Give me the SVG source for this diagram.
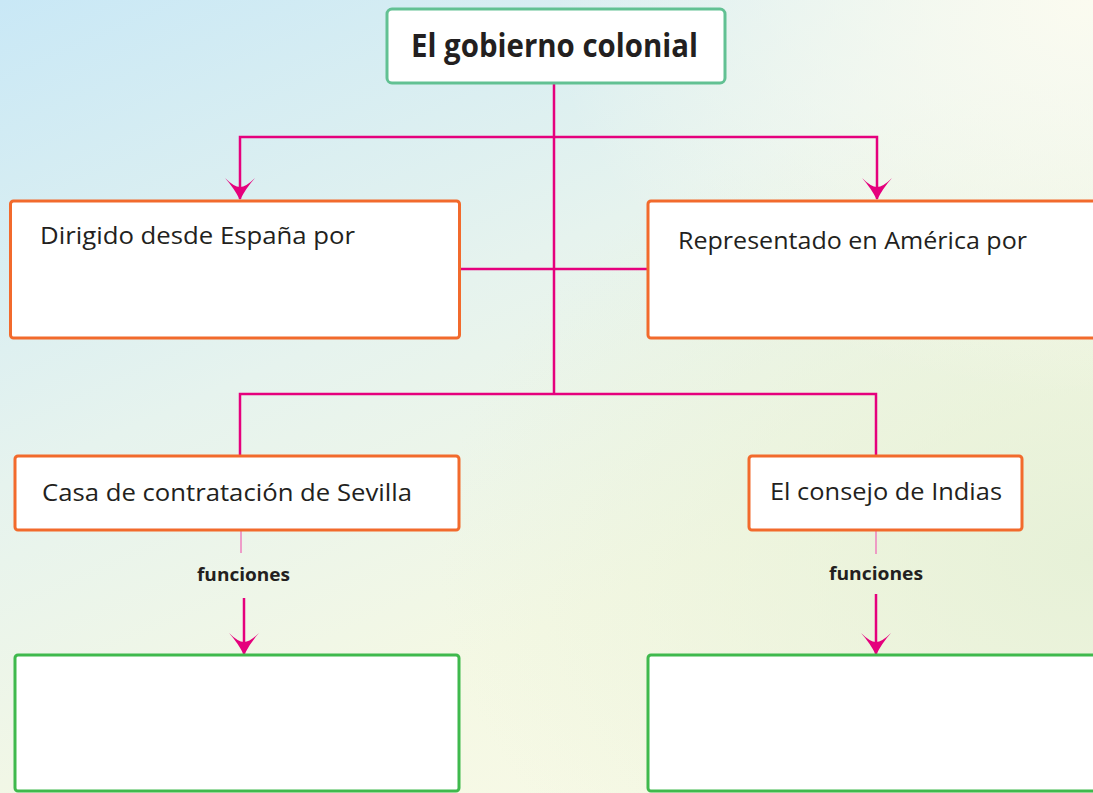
<svg xmlns="http://www.w3.org/2000/svg" width="1093" height="793" viewBox="0 0 1093 793">
<defs>
<linearGradient id="bg" x1="0" y1="0" x2="0.6" y2="1">
<stop offset="0" stop-color="#c9e8f6"/>
<stop offset="0.45" stop-color="#e6f3ee"/>
<stop offset="0.8" stop-color="#f4f8e4"/>
<stop offset="1" stop-color="#f7f9e6"/>
</linearGradient>
<radialGradient id="bg2" cx="1" cy="0.7" r="0.6">
<stop offset="0" stop-color="#e5f0d6" stop-opacity="0.9"/>
<stop offset="1" stop-color="#e5f0d6" stop-opacity="0"/>
</radialGradient>
<radialGradient id="bg3" cx="1" cy="0" r="0.5">
<stop offset="0" stop-color="#fbfbf0" stop-opacity="1"/>
<stop offset="1" stop-color="#fbfbf0" stop-opacity="0"/>
</radialGradient>
<marker id="arr" viewBox="0 0 22 30" refX="21" refY="15" markerWidth="22" markerHeight="30" markerUnits="userSpaceOnUse" orient="auto-start-reverse">
<path d="M0,0 Q10,9 22,15 Q10,21 0,30 Q9,21 9,15 Q9,9 0,0 Z" fill="#e5007d"/>
</marker>
<style>
.ln{stroke:#e5007d;stroke-width:2.5;fill:none}
.faint{stroke:#ef7fbd;stroke-width:1.5;fill:none}
.org{fill:#fff;stroke:#f26a2c;stroke-width:3}
.grn{fill:#fff;stroke:#3fb94d;stroke-width:3}
.tt{fill:#fff;stroke:#62c193;stroke-width:3}
.t{font-family:"Open Sans","Noto Sans",sans-serif;font-size:24px;fill:#231f20}
.b{font-family:"Open Sans","Noto Sans",sans-serif;font-weight:bold;fill:#231f20}
</style>
</defs>
<rect width="1093" height="793" fill="url(#bg)"/>
<rect width="1093" height="793" fill="url(#bg2)"/>
<rect width="1093" height="793" fill="url(#bg3)"/>
<g id="connectors">
<path class="ln" d="M554,83 V394"/>
<path class="ln" d="M240,199 V137 H877 V199" marker-start="url(#arr)" marker-end="url(#arr)"/>
<path class="ln" d="M460,269 H647"/>
<path class="ln" d="M240,456 V394 H876 V456"/>
<path class="faint" d="M241,531 V553"/>
<path class="ln" d="M244,598 V654" marker-end="url(#arr)"/>
<path class="faint" d="M876,531 V554"/>
<path class="ln" d="M876,594 V654" marker-end="url(#arr)"/>
</g>
<g id="title">
<rect class="tt" x="387" y="9" width="338" height="74" rx="5"/>
<text class="b" x="411" y="57" font-size="32" textLength="287" lengthAdjust="spacingAndGlyphs">El gobierno colonial</text>
</g>
<g id="dirigido">
<rect class="org" x="10.5" y="201" width="449" height="137" rx="3"/>
<text class="t" x="40" y="244" textLength="315" lengthAdjust="spacingAndGlyphs">Dirigido desde España por</text>
</g>
<g id="representado">
<rect class="org" x="648" y="201" width="460" height="137" rx="3"/>
<text class="t" x="678" y="249" textLength="349" lengthAdjust="spacingAndGlyphs">Representado en América por</text>
</g>
<g id="casa">
<rect class="org" x="15" y="456" width="444" height="74" rx="3"/>
<text class="t" x="42" y="501" textLength="370" lengthAdjust="spacingAndGlyphs">Casa de contratación de Sevilla</text>
</g>
<g id="consejo">
<rect class="org" x="749" y="456" width="273" height="74" rx="3"/>
<text class="t" x="770" y="500" textLength="232" lengthAdjust="spacingAndGlyphs">El consejo de Indias</text>
</g>
<g id="funciones-left">
<text class="b" x="197" y="581" font-size="18" textLength="93" lengthAdjust="spacingAndGlyphs">funciones</text>
</g>
<g id="funciones-right">
<text class="b" x="829" y="580" font-size="18" textLength="94" lengthAdjust="spacingAndGlyphs">funciones</text>
</g>
<g id="box-left">
<rect class="grn" x="15" y="655" width="444" height="136" rx="3"/>
</g>
<g id="box-right">
<rect class="grn" x="648" y="655" width="460" height="136" rx="3"/>
</g>
</svg>
